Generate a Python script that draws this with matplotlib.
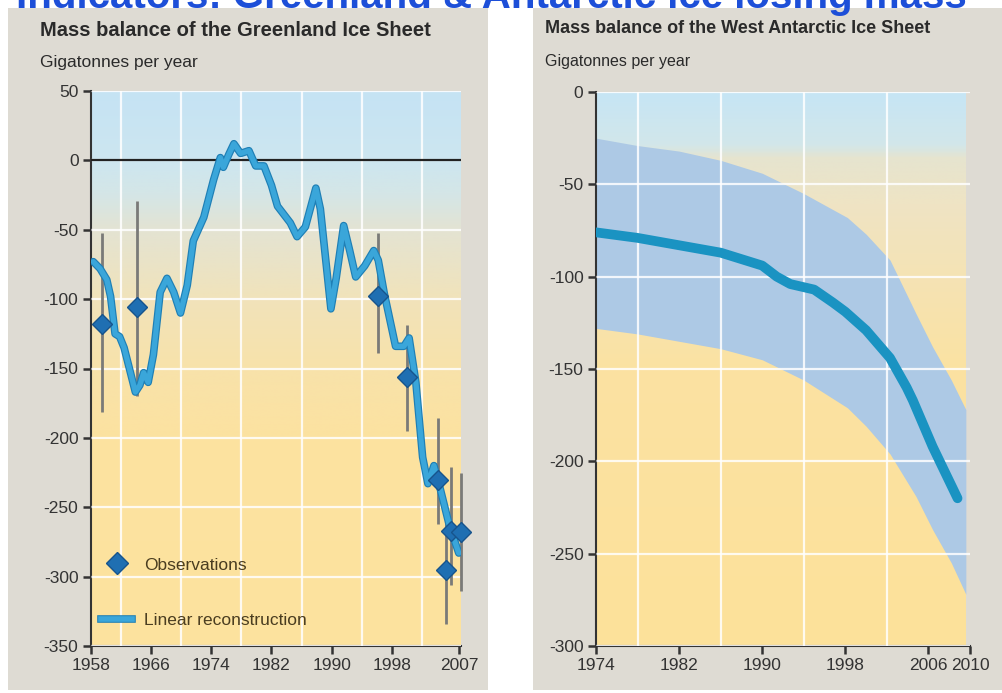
import numpy as np
import matplotlib
matplotlib.use("Agg")
from matplotlib import pyplot as plt
from matplotlib.colors import LinearSegmentedColormap
from matplotlib.patches import Rectangle
from matplotlib.lines import Line2D
import matplotlib.patheffects as pe

plt.rcParams['font.family'] = ['Liberation Sans', 'DejaVu Sans']
plt.rcParams['axes.unicode_minus'] = False

# Greenland: linear reconstruction
gl_years = [1958.3, 1959.2, 1960.1, 1960.6, 1961.2, 1961.8, 1962.4, 1963.2, 1963.9, 1964.5,
            1965.0, 1965.6, 1966.3, 1967.2, 1968.1, 1969.0, 1969.9, 1970.8, 1971.6, 1973.0,
            1974.3, 1975.2, 1975.6, 1976.3, 1977.0, 1977.9, 1979.0, 1979.9, 1981.0, 1982.0,
            1982.8, 1984.5, 1985.4, 1986.5, 1987.9, 1988.5, 1989.9, 1990.6, 1991.6, 1992.4,
            1993.2, 1994.4, 1995.6, 1996.2, 1997.0, 1998.5, 1999.6, 2000.3, 2001.2, 2002.1,
            2002.8, 2003.6, 2004.5, 2005.6, 2006.9]
gl_recon = [-73, -78, -86, -98, -125, -127, -135, -152, -167, -162,
            -153, -160, -140, -95, -85, -95, -110, -90, -58, -41,
            -14, 2, -5, 4, 12, 5, 7, -4, -4, -18,
            -33, -45, -55, -48, -20, -35, -107, -85, -47, -65,
            -84, -76, -65, -72, -96, -134, -134, -128, -160, -214,
            -233, -220, -238, -262, -283]

# Greenland: observations with error bars
obs_years = [1959.4, 1964.1, 1996.1, 2000.0, 2004.1, 2005.2, 2005.9, 2007.2]
obs_vals = [-118, -106, -98, -156, -230, -295, -267, -268]
obs_low = [-181, -170, -139, -195, -262, -334, -306, -310]
obs_high = [-52, -29, -52, -119, -186, -253, -221, -225]

# West Antarctica: central estimate and uncertainty band
wa_years = [1974, 1978, 1982, 1986, 1990, 1991.4, 1992.7, 1995, 1996.8, 1998, 2000, 2002.3,
            2003.9, 2004.5, 2006.4, 2008.8]
wa_mid = [-76, -79, -83, -87, -94, -100, -104, -107, -114, -119, -129, -144,
          -160, -167, -192, -220]
band_years = [1974, 1978, 1982, 1986, 1990, 1994, 1998.2, 2000, 2002.3, 2004.8, 2006.4,
              2008.2, 2009.6]
band_high = [-25, -29, -32, -37, -44, -55, -68, -77, -91, -120, -138, -156, -172]
band_low = [-128, -131, -135, -139, -145, -156, -171, -181, -196, -219, -237, -255, -272]

gl_ticks = [1958, 1966, 1974, 1982, 1990, 1998, 2007]
wa_ticks = [1974, 1982, 1990, 1998, 2006, 2010]

W, H = 1002, 693
fig = plt.figure(figsize=(W / 100, H / 100), dpi=100)
fig.patch.set_facecolor('white')

panel_col = '#dedbd3'
fig.patches.append(Rectangle((8 / W, 3 / H), 480 / W, 682 / H, transform=fig.transFigure,
                             facecolor=panel_col, edgecolor='none', zorder=-5))
fig.patches.append(Rectangle((533 / W, 3 / H), 475 / W, 682 / H, transform=fig.transFigure,
                             facecolor=panel_col, edgecolor='none', zorder=-5))

# banner title, cut off at the top edge as in the source image
fig.text(0.49, 1 - 8 / H, 'Indicators: Greenland & Antarctic ice losing mass', ha='center',
         va='baseline', fontsize=29, fontweight='bold', color='#1d4fd8', zorder=10)

txt = '#2a2a2a'
fig.text(40 / W, 1 - 36 / H, 'Mass balance of the Greenland Ice Sheet', fontsize=14.5,
         fontweight='bold', color=txt)
fig.text(40 / W, 1 - 67 / H, 'Gigatonnes per year', fontsize=12.5, color=txt)
fig.text(545 / W, 1 - 33 / H, 'Mass balance of the West Antarctic Ice Sheet', fontsize=13,
         fontweight='bold', color=txt)
fig.text(545 / W, 1 - 66 / H, 'Gigatonnes per year', fontsize=11.5, color=txt)


def gradient(ax, x0, x1, y0, y1, stops):
    cm = LinearSegmentedColormap.from_list('bg', [((v - y0) / (y1 - y0), c) for v, c in stops])
    g = np.linspace(0, 1, 400).reshape(-1, 1)
    ax.imshow(g, extent=[x0, x1, y0, y1], origin='lower', aspect='auto', cmap=cm,
              zorder=0, interpolation='bicubic')


def style(ax):
    ax.set_facecolor(panel_col)
    for s in ['top', 'right']:
        ax.spines[s].set_visible(False)
    for s in ['left', 'bottom']:
        ax.spines[s].set_color('#333333')
        ax.spines[s].set_linewidth(1.5)
    ax.tick_params(which='major', direction='out', length=6, width=1.8, color='#333333',
                   labelsize=12.5, labelcolor='#333333', pad=3)
    ax.tick_params(which='minor', length=0)
    ax.grid(True, which='minor', axis='x', color='white', lw=1.6, alpha=0.85)
    ax.grid(True, which='major', axis='y', color='white', lw=1.6, alpha=0.85)
    ax.set_axisbelow(False)


# ---- Greenland panel
ax1 = fig.add_axes([91 / W, 1 - 646 / H, 370 / W, 555 / H])
gradient(ax1, 1958, 2007.2, -350, 50,
         [(-350, '#fde39e'), (-200, '#fce2a0'), (-150, '#f8e2aa'), (-100, '#f1e3ba'),
          (-50, '#e4e3d2'), (-25, '#d5e6e6'), (0, '#cde6f0'), (50, '#c5e3f4')])
ax1.set_xlim(1958, 2007.2)
ax1.set_ylim(-350, 50)
ax1.set_xticks(gl_ticks)
ax1.set_xticks(np.arange(1962, 2003, 4), minor=True)
ax1.set_yticks(np.arange(-350, 51, 50))
style(ax1)
ax1.axhline(0, color='#222222', lw=1.6, zorder=3.5)
ax1.vlines(obs_years, obs_low, obs_high, color='#7a7a78', lw=2, zorder=3.6, clip_on=False)
ax1.plot(gl_years, gl_recon, color='#3aa6da', lw=3.8, zorder=4, solid_capstyle='round',
         path_effects=[pe.Stroke(linewidth=5.5, foreground='#1f7fb5'), pe.Normal()])
ax1.plot(obs_years, obs_vals, 'D', ms=10, color='#1f6fb2', mec='#17548c', mew=1, zorder=5,
         clip_on=False)
handles = [Line2D([], [], marker='D', ls='none', ms=11, color='#1f6fb2', mec='#17548c'),
           Line2D([], [], color='#3aa6da', lw=4,
                  path_effects=[pe.Stroke(linewidth=5.5, foreground='#1f7fb5'), pe.Normal()])]
ax1.legend(handles, ['Observations', 'Linear reconstruction'], loc='lower left',
           bbox_to_anchor=(-0.015, 0.005), frameon=False, fontsize=12.5, labelspacing=2.3,
           handlelength=1.8, handletextpad=0.7, labelcolor='#4a3d20')

# ---- West Antarctic panel
ax2 = fig.add_axes([596 / W, 1 - 646 / H, 374 / W, 554 / H])
gradient(ax2, 1974, 2009.6, -300, 0,
         [(-300, '#fde19a'), (-150, '#fbe2a2'), (-100, '#f5e3b4'), (-60, '#efe4c4'),
          (-35, '#e6e4cf'), (-28, '#d2e7ea'), (0, '#c6e5f5')])
ax2.set_xlim(1974, 2010)
ax2.set_ylim(-300, 0)
ax2.set_xticks(wa_ticks)
ax2.set_xticks(np.arange(1978, 2007, 4), minor=True)
ax2.set_yticks(np.arange(-300, 1, 50))
style(ax2)
ax2.fill_between(band_years, band_low, band_high, color='#adc9e5', lw=0, zorder=0.5)
ax2.plot(wa_years, wa_mid, color='#1a93c2', lw=7, zorder=4, solid_capstyle='round')

fig.savefig('out.png', dpi=100)
